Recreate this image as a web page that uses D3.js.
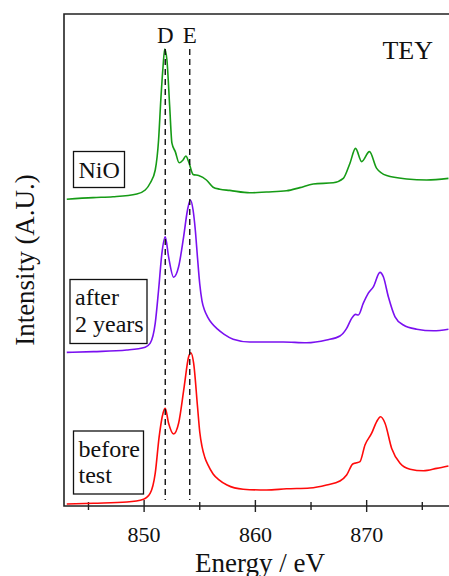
<!DOCTYPE html>
<html>
<head>
<meta charset="utf-8">
<script src="https://cdn.jsdelivr.net/npm/d3@7"></script>
<style>
  body { margin: 0; background: #fff; }
  svg text { font-family: "Liberation Serif", "Times New Roman", Times, serif; fill: #111; }
</style>
</head>
<body>
<div id="chart"></div>
<script>
// DATA (energy in eV, intensity in arbitrary units, curves already offset)
const nioEnergy = [843.05, 845.42, 847.2, 849.34, 850.1, 850.55, 851.0, 851.3, 851.5, 851.7, 851.85, 852.05, 852.3, 852.5, 852.8, 853.15, 853.5, 853.75, 854.0, 854.4, 854.9, 855.6, 856.2, 856.8, 857.7, 859.5, 861.0, 862.8, 864.0, 865.2, 867.0, 867.9, 868.5, 869.0, 869.55, 870.25, 870.9, 871.8, 873.6, 875.4, 877.35];
const nioIntensity = [76.7, 77.1, 77.3, 78.0, 79.0, 80.75, 84.0, 91.5, 101.5, 109.8, 114.25, 111.5, 99.8, 90.7, 88.6, 85.8, 86.5, 87.5, 86.1, 82.9, 82.6, 81.5, 79.7, 79.2, 78.9, 78.3, 78.5, 78.8, 79.6, 80.5, 80.8, 81.9, 85.7, 89.4, 86.1, 88.6, 84.4, 82.6, 81.75, 81.5, 81.9];

const afterEnergy = [843.05, 845.45, 848.45, 850.1, 850.55, 851.0, 851.3, 851.6, 851.9, 852.2, 852.65, 853.1, 853.55, 853.9, 854.15, 854.4, 854.6, 854.8, 855.0, 855.2, 855.45, 855.7, 856.1, 856.6, 857.2, 858.0, 859.5, 862.5, 864.6, 866.4, 867.6, 868.2, 868.65, 869.0, 869.25, 869.7, 870.15, 870.6, 871.2, 871.5, 871.95, 872.55, 873.3, 874.5, 876.0, 877.35];
const afterIntensity = [38.4, 38.6, 39.0, 39.7, 40.7, 45.7, 54.0, 63.2, 67.3, 62.3, 57.2, 59.8, 67.3, 74.0, 76.5, 74.0, 69.0, 62.0, 55.5, 51.3, 48.8, 47.3, 45.6, 44.2, 42.9, 41.7, 41.0, 41.0, 40.8, 41.5, 42.5, 44.4, 46.9, 47.9, 47.75, 50.7, 53.2, 54.8, 58.4, 57.3, 52.3, 47.3, 45.25, 44.2, 43.8, 44.2];

const beforeEnergy = [843.05, 845.45, 848.45, 849.95, 850.55, 851.0, 851.35, 851.7, 851.9, 852.2, 852.65, 853.1, 853.6, 854.0, 854.2, 854.45, 854.8, 855.0, 855.2, 855.45, 855.75, 856.2, 856.7, 857.45, 858.9, 861.0, 862.8, 864.9, 866.4, 867.6, 868.2, 868.75, 869.1, 869.4, 869.85, 870.45, 870.9, 871.25, 871.65, 872.25, 873.0, 873.9, 875.1, 876.3, 877.35];
const beforeIntensity = [0.5, 0.7, 1.0, 1.7, 3.2, 8.2, 17.3, 23.2, 24.4, 20.7, 18.0, 20.7, 29.8, 37.3, 38.3, 35.7, 24.8, 18.5, 14.9, 12.2, 10.2, 8.0, 6.6, 5.25, 4.2, 4.0, 4.3, 4.5, 5.25, 6.25, 7.75, 10.5, 10.8, 11.1, 15.25, 18.2, 21.1, 22.3, 20.7, 14.4, 10.7, 9.2, 8.8, 9.4, 10.0];

const majorTicks = [850, 860, 870];
const minorTicks = [845, 855, 865, 875];
const markerEnergy = [851.9, 854.1];
const markerLabels = ["D", "E"];

// SETUP
const width = 449;
const height = 576;
const plotLeft = 64, plotTop = 14, plotBottom = 506, plotRight = 449;

const svg = d3.select("#chart")
    .append("svg")
    .attr("width", width)
    .attr("height", height)
    .attr("font-family", "Liberation Serif, Times New Roman, serif");

const x = d3.scaleLinear().domain([842.8, 877.4]).range([plotLeft, plotRight]);
const y = d3.scaleLinear().domain([0, 123]).range([plotBottom, plotTop]);

// FRAME
svg.append("path")
    .attr("d", `M${plotRight + 5},${plotTop}H${plotLeft}V${plotBottom}H${plotRight + 5}`)
    .attr("fill", "none")
    .attr("stroke", "#222")
    .attr("stroke-width", 1.6);

// TICKS (crossing the bottom axis)
svg.selectAll(".major")
    .data(majorTicks)
    .enter().append("line")
    .attr("x1", d => x(d)).attr("x2", d => x(d))
    .attr("y1", plotBottom - 6).attr("y2", plotBottom + 6)
    .attr("stroke", "#222").attr("stroke-width", 1.4);

svg.selectAll(".minor")
    .data(minorTicks)
    .enter().append("line")
    .attr("x1", d => x(d)).attr("x2", d => x(d))
    .attr("y1", plotBottom - 4).attr("y2", plotBottom + 4)
    .attr("stroke", "#222").attr("stroke-width", 1.4);

svg.selectAll(".ticklabel")
    .data(majorTicks)
    .enter().append("text")
    .attr("x", d => x(d))
    .attr("y", 542)
    .attr("text-anchor", "middle")
    .style("font-size", "22px")
    .text(d => d);

// AXIS TITLES
svg.append("text")
    .attr("x", 260).attr("y", 572)
    .attr("text-anchor", "middle")
    .style("font-size", "27px")
    .text("Energy / eV");

svg.append("text")
    .attr("transform", "translate(34,260) rotate(-90)")
    .attr("text-anchor", "middle")
    .style("font-size", "27px")
    .text("Intensity (A.U.)");

// CURVES
const line = d3.line()
    .x(d => x(d[0]))
    .y(d => y(d[1]))
    .curve(d3.curveMonotoneX);

const series = [
    { e: nioEnergy, v: nioIntensity, color: "#169b16" },
    { e: afterEnergy, v: afterIntensity, color: "#7a10f0" },
    { e: beforeEnergy, v: beforeIntensity, color: "#ff0a0a" }
];

series.forEach(s => {
    svg.append("path")
        .datum(d3.zip(s.e, s.v))
        .attr("d", line)
        .attr("fill", "none")
        .attr("stroke", s.color)
        .attr("stroke-width", 1.6);
});

// DASHED MARKERS
svg.selectAll(".marker")
    .data(markerEnergy)
    .enter().append("line")
    .attr("x1", d => x(d)).attr("x2", d => x(d))
    .attr("y1", 49).attr("y2", 500)
    .attr("stroke", "#111")
    .attr("stroke-width", 1.4)
    .attr("stroke-dasharray", "6,4");

svg.selectAll(".markerlabel")
    .data(markerEnergy)
    .enter().append("text")
    .attr("x", d => x(d))
    .attr("y", 43)
    .attr("text-anchor", "middle")
    .style("font-size", "23px")
    .text((d, i) => markerLabels[i]);

svg.append("text")
    .attr("x", 433).attr("y", 59)
    .attr("text-anchor", "end")
    .style("font-size", "26px")
    .text("TEY");

// LABEL BOXES
const boxes = [
    { x: 73.5, y: 151.5, w: 51, h: 36, lines: ["NiO"], base: [177.5] },
    { x: 70, y: 279.5, w: 77, h: 64, lines: ["after", "2 years"], base: [305, 332] },
    { x: 73.5, y: 431, w: 70, h: 63, lines: ["before", "test"], base: [457, 483] }
];

boxes.forEach(b => {
    svg.append("rect")
        .attr("x", b.x).attr("y", b.y)
        .attr("width", b.w).attr("height", b.h)
        .attr("fill", "#fff")
        .attr("stroke", "#111")
        .attr("stroke-width", 1.3);
    b.lines.forEach((t, i) => {
        svg.append("text")
            .attr("x", b.x + 5)
            .attr("y", b.base[i])
            .style("font-size", "24px")
            .text(t);
    });
});
</script>
</body>
</html>
